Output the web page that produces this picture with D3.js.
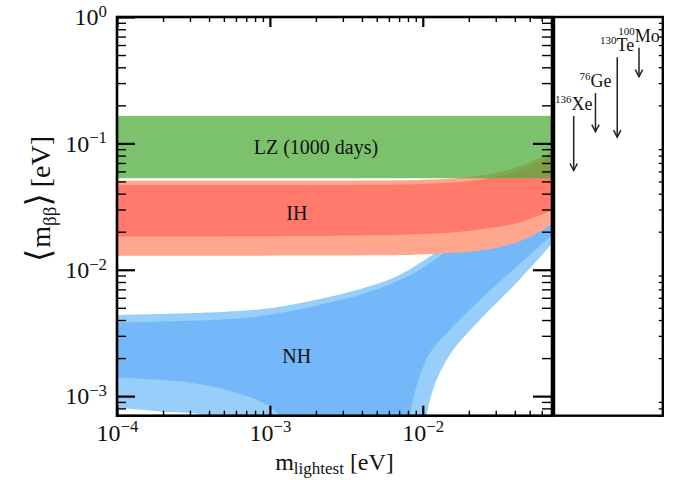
<!DOCTYPE html>
<html>
<head>
<meta charset="utf-8">
<script src="https://cdn.jsdelivr.net/npm/d3@7"></script>
<style>
  body { margin: 0; background: #fff; }
  text { font-family: "Liberation Serif", "DejaVu Serif", serif; fill: #111; }
</style>
</head>
<body>
<svg id="chart" width="683" height="480"></svg>
<script>
// Values: [m_lightest (eV), <m_bb> (eV)]
const xMajorTicks = [1e-4, 1e-3, 1e-2];
const yMajorTicks = [1e-3, 1e-2, 1e-1, 1];

// LZ (1000 days) sensitivity band
const lzRange = [0.053, 0.165];

// Inverted hierarchy, outer (light) and inner (dark) bands
const ihOuterTop = [[1e-4, 0.0507], [5e-3, 0.0508], [0.01, 0.0515], [0.0182, 0.0535],
  [0.0272, 0.0569], [0.0411, 0.0647], [0.05, 0.0707], [0.07, 0.0864], [0.075, 0.09]];
const ihOuterBottom = [[1e-4, 0.0129], [5e-3, 0.0130], [9.5e-3, 0.0132], [0.026, 0.0144],
  [0.04, 0.0163], [0.05, 0.0182], [0.069, 0.0226], [0.075, 0.024]];
const ihInnerTop = [[1e-4, 0.0469], [5e-3, 0.047], [0.01, 0.0477], [0.0182, 0.0497],
  [0.0272, 0.053], [0.0411, 0.0603], [0.05, 0.066], [0.07, 0.081], [0.075, 0.085]];
const ihInnerBottom = [[1e-4, 0.0183], [2.5e-3, 0.0186], [0.01, 0.0192], [0.0182, 0.0201],
  [0.0272, 0.0214], [0.0411, 0.0233], [0.05, 0.0252], [0.07, 0.0297], [0.075, 0.031]];

// Normal hierarchy, outer (light) and inner (dark) bands
const nhOuterTop = [[1e-4, 0.00439], [5.2e-4, 0.00466], [1e-3, 0.00496], [2.47e-3, 0.00612],
  [4.04e-3, 0.00714], [6.7e-3, 0.00882], [9.5e-3, 0.01125], [0.0129, 0.0144],
  [0.02, 0.021], [0.03, 0.031], [0.05, 0.05], [0.075, 0.075]];
const nhOuterBottom = [[1e-4, 8.1e-4], [2.1e-4, 7.5e-4], [3.7e-4, 7.0e-4], [5e-4, 5e-4],
  [7e-4, 1e-4], [9e-3, 1e-4], [0.0106, 7e-4], [0.0123, 0.00134], [0.0158, 0.00232],
  [0.0236, 0.00401], [0.0388, 0.00735], [0.0687, 0.0157], [0.075, 0.018]];
const nhInnerTop = [[1e-4, 0.00382], [5.2e-4, 0.00406], [1e-3, 0.0044], [2.47e-3, 0.0055],
  [4.04e-3, 0.00644], [6.7e-3, 0.00805], [9.5e-3, 0.0100], [0.0129, 0.0128],
  [0.02, 0.019], [0.03, 0.028], [0.05, 0.046], [0.075, 0.068]];
const nhInnerBottom = [[1e-4, 0.0014], [2.73e-4, 0.0013], [5.24e-4, 0.00112], [8.2e-4, 0.00093],
  [1.11e-3, 0.00074], [1.4e-3, 3e-4], [2e-3, 1e-4], [7e-3, 1e-4], [8.2e-3, 6.8e-4],
  [9.1e-3, 0.00119], [0.0111, 0.00218], [0.0143, 0.00315], [0.0236, 0.00577],
  [0.0388, 0.00996], [0.0644, 0.0172], [0.075, 0.02]];

// Band labels: [text, m, <m_bb>]
const bandLabels = [["LZ (1000 days)", 2.0e-3, 0.0824], ["IH", 1.5e-3, 0.0248], ["NH", 1.5e-3, 1.84e-3]];

// Current experimental limits (right panel)
const isotopes    = ["Xe", "Ge", "Te", "Mo"];
const massNumbers = ["136", "76", "130", "100"];
const limitUpper  = [0.165, 0.25, 0.48, 0.57];
const limitLower  = [0.061, 0.124, 0.112, 0.337];

const colors = {
  lz: "rgba(78,173,58,0.74)",
  ihOuter: "#ffa68f", ihInner: "#ff7a6b",
  nhOuter: "#97cefa", nhInner: "#74b8fa"
};

const svg = d3.select("#chart");
const plot = {left: 117, right: 552, top: 17, bottom: 415.7};
const panel = {left: 554, right: 662.8};

const x = d3.scaleLog().domain([1e-4, 0.07]).range([plot.left, plot.right]);
const y = d3.scaleLog().domain([7e-4, 1]).range([plot.bottom, plot.top]);

svg.append("defs").append("clipPath").attr("id", "clip")
  .append("rect")
  .attr("x", plot.left).attr("y", plot.top)
  .attr("width", plot.right - plot.left).attr("height", plot.bottom - plot.top);

const bands = svg.append("g").attr("clip-path", "url(#clip)");

const edge = d3.line()
  .x(d => x(d[0]))
  .y(d => y(d[1]))
  .curve(d3.curveCatmullRom.alpha(0.5));

function bandPath(top, bottom) {
  const down = edge(bottom.slice().reverse());
  return edge(top) + "L" + down.slice(1) + "Z";
}

bands.append("path").attr("d", bandPath(nhOuterTop, nhOuterBottom)).attr("fill", colors.nhOuter);
bands.append("path").attr("d", bandPath(nhInnerTop, nhInnerBottom)).attr("fill", colors.nhInner);
bands.append("path").attr("d", bandPath(ihOuterTop, ihOuterBottom)).attr("fill", colors.ihOuter);
bands.append("path").attr("d", bandPath(ihInnerTop, ihInnerBottom)).attr("fill", colors.ihInner);

bands.append("rect")
  .attr("x", plot.left).attr("width", plot.right - plot.left)
  .attr("y", y(lzRange[1])).attr("height", y(lzRange[0]) - y(lzRange[1]))
  .attr("fill", colors.lz);

svg.append("g").selectAll("text")
  .data(bandLabels)
  .join("text")
  .attr("x", d => x(d[1]))
  .attr("y", d => y(d[2]))
  .attr("text-anchor", "middle")
  .attr("font-size", 20)
  .text(d => d[0]);

// Axes (all ticks point inward)
const isMajor = v => Math.abs(Math.log10(v) - Math.round(Math.log10(v))) < 1e-9;
const xMinor = x.ticks().filter(v => !isMajor(v));
const yMinor = y.ticks().filter(v => !isMajor(v));

function powerLabel(sel) {
  sel.selectAll(".tick text").each(function(v) {
    const t = d3.select(this).text("");
    const e = Math.round(Math.log10(v));
    t.append("tspan").text("10");
    t.append("tspan").attr("dy", "-0.5em").attr("font-size", "0.7em")
      .text(e < 0 ? "\u2212" + (-e) : String(e));
  });
}

function styleAxis(g, width) {
  g.select(".domain").remove();
  g.selectAll(".tick line").attr("stroke", "#000").attr("stroke-width", width);
}

const fontAxis = g => g.selectAll("text").attr("font-size", 24).attr("fill", "#111")
  .attr("font-family", "Liberation Serif, DejaVu Serif, serif");

// bottom
svg.append("g").attr("transform", `translate(0,${plot.bottom})`)
  .call(d3.axisBottom(x).tickValues(xMinor).tickSize(-5).tickFormat(""))
  .call(g => styleAxis(g, 1.4));
svg.append("g").attr("transform", `translate(0,${plot.bottom})`)
  .call(d3.axisBottom(x).tickValues(xMajorTicks).tickSize(-10).tickPadding(8))
  .call(g => styleAxis(g, 2.2))
  .call(fontAxis)
  .call(powerLabel);

// top
svg.append("g").attr("transform", `translate(0,${plot.top})`)
  .call(d3.axisTop(x).tickValues(xMinor).tickSize(-5).tickFormat(""))
  .call(g => styleAxis(g, 1.4));
svg.append("g").attr("transform", `translate(0,${plot.top})`)
  .call(d3.axisTop(x).tickValues(xMajorTicks).tickSize(-10).tickFormat(""))
  .call(g => styleAxis(g, 2.2));

// left
svg.append("g").attr("transform", `translate(${plot.left},0)`)
  .call(d3.axisLeft(y).tickValues(yMinor).tickSize(-9).tickFormat(""))
  .call(g => styleAxis(g, 1.4));
svg.append("g").attr("transform", `translate(${plot.left},0)`)
  .call(d3.axisLeft(y).tickValues(yMajorTicks).tickSize(-18).tickPadding(10))
  .call(g => styleAxis(g, 2.2))
  .call(fontAxis)
  .call(powerLabel);

// right side of main plot
svg.append("g").attr("transform", `translate(${plot.right},0)`)
  .call(d3.axisRight(y).tickValues(yMinor).tickSize(-10).tickFormat(""))
  .call(g => styleAxis(g, 1.4));
svg.append("g").attr("transform", `translate(${plot.right},0)`)
  .call(d3.axisRight(y).tickValues(yMajorTicks).tickSize(-19).tickFormat(""))
  .call(g => styleAxis(g, 2.2));

// right panel outer edge: minor ticks only
svg.append("g").attr("transform", `translate(${panel.right},0)`)
  .call(d3.axisLeft(y).tickValues(yMinor).tickSize(4).tickFormat(""))
  .call(g => styleAxis(g, 1.3));

// frames
svg.append("rect")
  .attr("x", plot.left).attr("y", plot.top)
  .attr("width", plot.right - plot.left).attr("height", plot.bottom - plot.top)
  .attr("fill", "none").attr("stroke", "#000").attr("stroke-width", 2.6);
svg.append("rect")
  .attr("x", panel.left).attr("y", plot.top)
  .attr("width", panel.right - panel.left).attr("height", plot.bottom - plot.top)
  .attr("fill", "none").attr("stroke", "#000").attr("stroke-width", 2.4);

// axis titles
const xTitle = svg.append("text")
  .attr("x", (plot.left + plot.right) / 2).attr("y", 470)
  .attr("text-anchor", "middle").attr("font-size", 24);
xTitle.append("tspan").text("m");
xTitle.append("tspan").attr("font-size", 17).attr("dy", 4).text("lightest");
xTitle.append("tspan").attr("dy", -4).text(" [eV]");

const yTitle = svg.append("text")
  .attr("transform", "translate(50,199) rotate(-90)")
  .attr("text-anchor", "middle").attr("font-size", 28);
yTitle.append("tspan").attr("font-size", 34).attr("font-weight", 300).text("\u27E8");
yTitle.append("tspan").attr("dx", 1).text("m");
yTitle.append("tspan").attr("font-size", 19).attr("dy", 6).text("\u03B2\u03B2");
yTitle.append("tspan").attr("dy", -6).attr("font-size", 34).attr("font-weight", 300).text("\u27E9");
yTitle.append("tspan").attr("dx", 6).text("[eV]");

// right panel: limits as arrows
const px = d3.scalePoint().domain(isotopes).range([panel.left + 19.7, panel.left + 85]);
const limits = svg.append("g");
isotopes.forEach((iso, i) => {
  const cx = px(iso);
  const y0 = y(limitUpper[i]);
  const y1 = y(limitLower[i]);
  limits.append("line")
    .attr("x1", cx).attr("x2", cx).attr("y1", y0).attr("y2", y1)
    .attr("stroke", "#222").attr("stroke-width", 1.5);
  limits.append("path")
    .attr("d", `M${cx - 3.7},${y1 - 7}L${cx},${y1}L${cx + 3.7},${y1 - 7}`)
    .attr("fill", "none").attr("stroke", "#222").attr("stroke-width", 1.5);
  const t = limits.append("text")
    .attr("x", cx).attr("y", y0 - 6)
    .attr("text-anchor", "middle").attr("font-size", 18);
  t.append("tspan").attr("font-size", 11).attr("dy", -7).text(massNumbers[i]);
  t.append("tspan").attr("dy", 7).text(iso);
});
</script>
</body>
</html>
